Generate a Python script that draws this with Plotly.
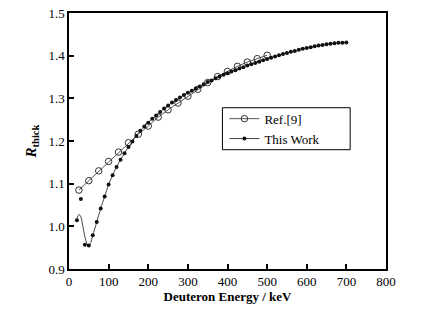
import plotly.graph_objects as go

# Ref.[9] data (open circles)
ref_energy = [25, 50, 75, 100, 125, 150, 175, 200, 225, 250, 275, 300, 325,
              350, 375, 400, 425, 450, 475, 500]
ref_r = [1.085, 1.107, 1.130, 1.152, 1.174, 1.196, 1.216, 1.235, 1.256, 1.273,
         1.289, 1.305, 1.321, 1.337, 1.351, 1.363, 1.375, 1.385, 1.393, 1.401]

# This Work data (filled dots), every 10 keV from 20 to 700
work_energy = list(range(20, 710, 10))
work_r = [1.014, 1.064, 0.957, 0.955, 0.979, 1.010, 1.042, 1.070, 1.098, 1.120,
          1.139, 1.156, 1.171, 1.186, 1.199, 1.212, 1.224, 1.234, 1.243, 1.252,
          1.260, 1.268, 1.276, 1.283, 1.290, 1.296, 1.302, 1.308, 1.313, 1.318,
          1.323, 1.328, 1.333, 1.338, 1.342, 1.347, 1.351, 1.355, 1.359, 1.363,
          1.366, 1.370, 1.373, 1.377, 1.380, 1.383, 1.386, 1.389, 1.392, 1.395,
          1.398, 1.401, 1.404, 1.406, 1.409, 1.411, 1.414, 1.416, 1.418, 1.420,
          1.422, 1.424, 1.425, 1.427, 1.428, 1.429, 1.430, 1.430, 1.431]

# Smoothed curve drawn through This Work (differs at the lowest energies)
curve_energy = [20, 25, 30, 35, 40, 45, 50, 55, 60] + list(range(70, 710, 10))
curve_r = [1.018, 1.028, 1.022, 1.000, 0.976, 0.960, 0.954, 0.962, 0.979] + work_r[5:]

x_ticks = [0, 100, 200, 300, 400, 500, 600, 700, 800]
y_ticks = [0.9, 1.0, 1.1, 1.2, 1.3, 1.4, 1.5]

font_family = "Liberation Serif, Times New Roman, serif"

fig = go.Figure()

fig.add_trace(go.Scatter(
    x=ref_energy, y=ref_r, mode="lines+markers", name="Ref.[9]",
    line=dict(color="#555555", width=1),
    marker=dict(symbol="circle-open", size=6.5, color="#333333", line=dict(width=1)),
))

fig.add_trace(go.Scatter(
    x=curve_energy, y=curve_r, mode="lines", showlegend=False,
    line=dict(color="#444444", width=1, shape="spline", smoothing=0.8),
    hoverinfo="skip",
))

fig.add_trace(go.Scatter(
    x=work_energy, y=work_r, mode="markers", name="This Work",
    marker=dict(symbol="circle", size=4, color="#111111"),
    showlegend=False,
))

# legend proxy for "This Work" (line + dot)
fig.add_trace(go.Scatter(
    x=[None], y=[None], mode="lines+markers", name="This Work",
    line=dict(color="#444444", width=1),
    marker=dict(symbol="circle", size=4, color="#111111"),
))

# legend frame (the legend itself is drawn borderless inside it)
fig.add_shape(type="rect", xref="paper", yref="paper",
              x0=0.484, x1=0.887, y0=0.466, y1=0.63,
              line=dict(color="black", width=1), fillcolor="white", layer="above")

fig.update_layout(
    width=430, height=316,
    margin=dict(l=68.5, r=44.3, t=13.3, b=46.7, autoexpand=False),
    paper_bgcolor="white", plot_bgcolor="white",
    font=dict(family=font_family, size=13, color="black"),
    showlegend=True,
    legend=dict(
        x=0.484, y=0.548, xanchor="left", yanchor="middle",
        borderwidth=0, bgcolor="rgba(0,0,0,0)",
        font=dict(family=font_family, size=13),
        itemwidth=30, tracegroupgap=0, indentation=2,
    ),
    xaxis=dict(
        range=[0, 800], tickvals=x_ticks, ticktext=[str(v) for v in x_ticks],
        showline=True, linecolor="black", linewidth=1.5, mirror=True,
        ticks="inside", ticklen=5, tickwidth=1.5, tickcolor="black",
        showgrid=False, zeroline=False, automargin=False,
        ticklabeloverflow="allow",
        tickfont=dict(family=font_family, size=13),
        title=dict(text="<b>Deuteron Energy / keV</b>", standoff=2,
                   font=dict(family=font_family, size=13)),
    ),
    yaxis=dict(
        range=[0.9, 1.5], tickvals=y_ticks, ticktext=[f"{v:.1f}" for v in y_ticks],
        showline=True, linecolor="black", linewidth=1.5, mirror=True,
        ticks="inside", ticklen=5, tickwidth=1.5, tickcolor="black",
        showgrid=False, zeroline=False, automargin=False,
        ticklabeloverflow="allow",
        tickfont=dict(family=font_family, size=13),
        title=dict(text="<b><i>R</i><sub>thick</sub></b>", standoff=8,
                   font=dict(family=font_family, size=15)),
    ),
)

fig.write_html("out.html", config={"displayModeBar": False},
               post_script="document.body.style.margin='0';")
